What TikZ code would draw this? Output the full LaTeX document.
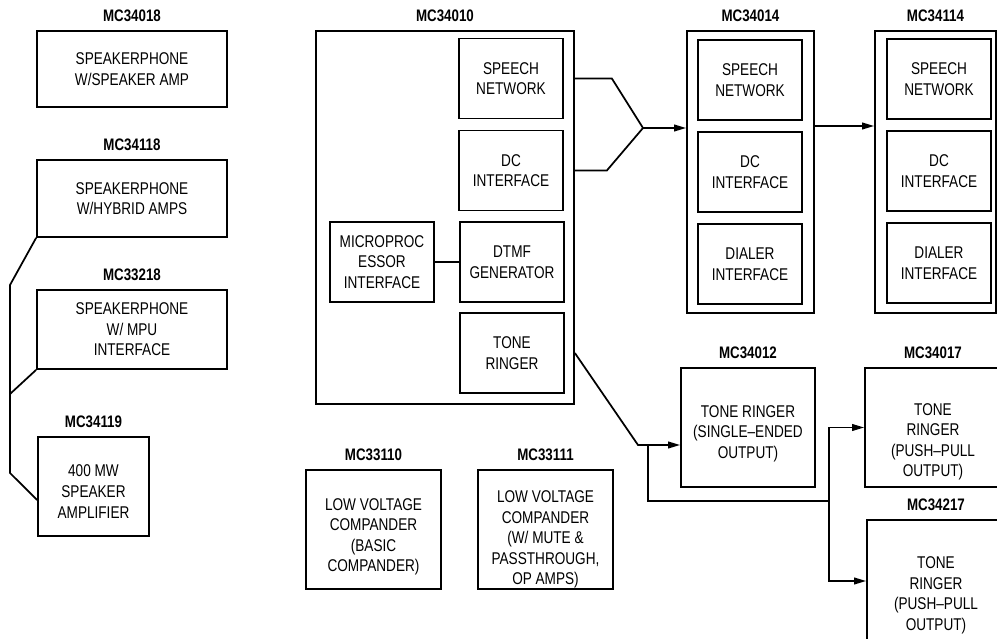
\documentclass[tikz,border=0pt]{standalone}
\usepackage{fontspec}
\setmainfont[FakeStretch=0.8]{Liberation Sans}
\usepackage{tikz}
\usetikzlibrary{arrows.meta}
\newlength{\pxu}
\setlength{\pxu}{0.75pt}

\begin{document}
\begin{tikzpicture}[
  x=0.75pt, y=-0.75pt,
  line width=1.3pt,
  >={Triangle[length=9pt, width=5pt]},
  label distance=8\pxu,
  every node/.style={font=\fontsize{12.75}{15.4}\selectfont, align=center, inner sep=0pt},
  chip/.style={draw, line width=1.3pt},
  part/.style={draw, line width=1.3pt, minimum width=104\pxu, minimum height=80\pxu},
  tag/.style={font=\bfseries\fontsize{12.5}{14}\selectfont},
  arrow/.style={->, line width=1.3pt}
]
\clip (0,0) rectangle (997,639);

% speakerphone column
\node[chip, minimum width=190\pxu, minimum height=76\pxu, label={[tag]above:MC34018}] (sp18) at (132,69) {SPEAKERPHONE\\W/SPEAKER AMP};
\node[chip, minimum width=190\pxu, minimum height=77\pxu, label={[tag]above:MC34118}] (sp118) at (132,198.5) {SPEAKERPHONE\\W/HYBRID AMPS};
\node[chip, minimum width=190\pxu, minimum height=79\pxu, label={[tag]above:MC33218}] (sp218) at (132,329.5) {SPEAKERPHONE\\W/ MPU\\INTERFACE};
\node[chip, minimum width=111\pxu, minimum height=99\pxu, text height=63\pxu, label={[tag]above:MC34119}] (amp119) at (93.5,486.5) {400 MW\\SPEAKER\\AMPLIFIER};

% MC34010
\node[chip, minimum width=258\pxu, minimum height=373\pxu, label={[tag]above:MC34010}] (mc10) at (445,217.5) {};
\node[part] (speech10) at (511,78.5) {SPEECH\\NETWORK};
\node[part] (dc10) at (511,170.5) {DC\\INTERFACE};
\node[part] (dtmf10) at (512,262) {DTMF\\GENERATOR};
\node[part] (ring10) at (512,353) {TONE\\RINGER};
\node[part] (mpu10) at (382,262) {MICROPROC\\ESSOR\\INTERFACE};

% MC34014 and MC34114
\node[chip, minimum width=127\pxu, minimum height=282\pxu, label={[tag]above:MC34014}] (mc14) at (750.5,172) {};
\node[part] (speech14) at (750,80) {SPEECH\\NETWORK};
\node[part] (dc14) at (750,172) {DC\\INTERFACE};
\node[part] (dial14) at (750,264) {DIALER\\INTERFACE};

\node[chip, minimum width=121\pxu, minimum height=282\pxu, label={[tag]above:MC34114}] (mc114) at (935.5,172) {};
\node[part] (speech114) at (939,79) {SPEECH\\NETWORK};
\node[part] (dc114) at (939,171) {DC\\INTERFACE};
\node[part] (dial114) at (939,263) {DIALER\\INTERFACE};

% tone ringers
\node[chip, minimum width=134\pxu, minimum height=119\pxu, text height=65\pxu, label={[tag]above:MC34012}] (mc12) at (748,427.5) {TONE RINGER\\(SINGLE--ENDED\\OUTPUT)};
\node[chip, minimum width=136\pxu, minimum height=119\pxu, text height=102\pxu, label={[tag]above:MC34017}] (mc17) at (933,427.5) {TONE\\RINGER\\(PUSH--PULL\\OUTPUT)};
\node[chip, minimum width=138\pxu, minimum height=122\pxu, text height=102\pxu, label={[tag]above:MC34217}] (mc217) at (936,581) {TONE\\RINGER\\(PUSH--PULL\\OUTPUT)};

% companders
\node[chip, minimum width=135\pxu, minimum height=119\pxu, text height=88\pxu, label={[tag]above:MC33110}] (cmp10) at (373.5,529.5) {LOW VOLTAGE\\COMPANDER\\(BASIC\\COMPANDER)};
\node[chip, minimum width=135\pxu, minimum height=119\pxu, text height=114\pxu, label={[tag]above:MC33111}] (cmp11) at (545.5,529.5) {LOW VOLTAGE\\COMPANDER\\(W/ MUTE \&\\PASSTHROUGH,\\OP AMPS)};

% connections
\coordinate (railtop) at (10,285);
\coordinate (railmid) at (10,394);
\coordinate (railbot) at (10,473);
\draw (sp118.south west) -- (railtop) -- (railbot) -- ([yshift=-13.5\pxu]amp119.west);
\draw (sp218.south west) -- (railmid);

\draw (mpu10) -- (dtmf10);

\coordinate (join) at (643,128);
\draw (speech10.east -| mc10.east) -- ++(37,0) -- (join);
\draw (dc10.east -| mc10.east) -- ++(32,0) -- (join);
\draw[arrow] (join) -- (join -| mc14.west);

\coordinate (hop) at (814,126);
\draw[arrow] (hop -| mc14.east) -- (hop -| mc114.west);

\coordinate (bend) at (638,445);
\coordinate (split) at (648,445);
\coordinate (bus) at (829,501);
\draw[arrow] (ring10.east -| mc10.east) -- (bend) -- (bend -| mc12.west);
\draw (split) |- (bus);
\draw[arrow] (bus) |- (mc17.west);
\draw[arrow] (bus) |- (mc217.west);
\end{tikzpicture}
\end{document}
